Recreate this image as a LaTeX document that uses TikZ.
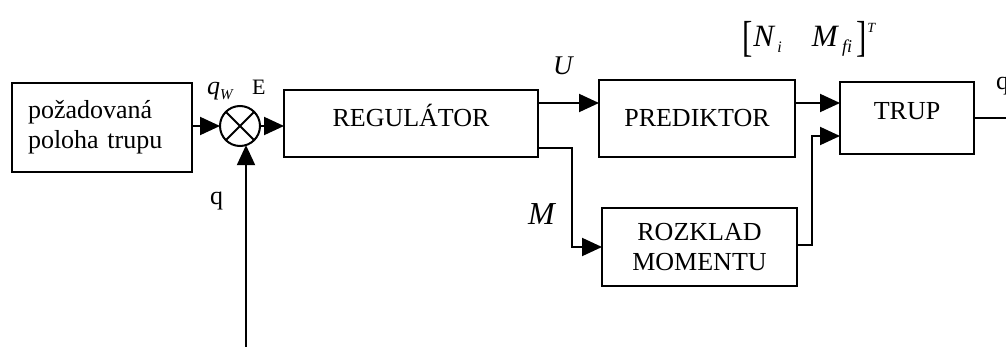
\documentclass[tikz,border=0pt]{standalone}
\usepackage{fontspec}
\setmainfont{Liberation Serif}
\usepackage{graphicx}
\usetikzlibrary{arrows.meta,calc}
\begin{document}
\begin{tikzpicture}[x=1pt,y=-1pt,line width=2pt,
  every node/.style={font=\fontsize{26}{30}\selectfont},
  box/.style={draw,rectangle,inner sep=0pt,outer sep=0pt},
  arr/.style={-{Triangle[length=20pt,width=18pt]}},
  lbl/.style={anchor=base west,inner sep=0pt,outer sep=0pt}]
\useasboundingbox (0,0) rectangle (1006,347);

% blocks
\node[box,minimum width=180pt,minimum height=89pt,text width=148pt,inner xsep=16pt,align=left] (ref) at (102,127.5) {požadovaná\\poloha trupu};
\node[draw,circle,minimum size=40pt,inner sep=0pt,outer sep=0pt] (sum) at (240,126) {};
\draw (sum.45) -- (sum.225) (sum.135) -- (sum.-45);
\node[box,minimum width=254pt,minimum height=67pt,text height=17pt,text depth=10pt] (reg) at (411,123.5) {REGULÁTOR};
\node[box,minimum width=196pt,minimum height=77pt] (pred) at (697,118.5) {PREDIKTOR\hspace{6pt}};
\node[box,minimum width=134pt,minimum height=72pt,text height=17pt,text depth=13pt] (trup) at (907,118) {TRUP\hspace{8pt}};
\node[box,minimum width=195pt,minimum height=78pt,align=center] (rozk) at (699.5,247) {ROZKLAD\\MOMENTU};

% connectors
\draw[arr] (ref.east |- sum) -- (sum.west);
\draw[arr] (sum.east) -- (sum -| reg.west);
\coordinate (qin) at (246,350);
\draw[arr] (qin) -- (qin |- sum.-73);
\coordinate (u) at ([yshift=20.5pt]reg.east);
\draw[arr] (u) -- (u -| pred.west);
\coordinate (mm) at ([yshift=-24.5pt]reg.east);
\draw[arr] (mm) -- ++(34,0) |- (rozk.west);
\coordinate (t1) at ([yshift=15pt]trup.west);
\draw[arr] (t1 -| pred.east) -- (t1);
\coordinate (t2) at ([yshift=-18pt]trup.west);
\draw[arr] ([yshift=2pt]rozk.east) -- ++(15,0) |- (t2);
\coordinate (out) at (1015,118);
\draw (trup.east) -- (out);

% labels
\node[lbl] (lqw) at (207,95) {\textit{q}\raisebox{-5pt}{\fontsize{15}{15}\selectfont\textit{W}}};
\node[lbl] (le) at (252,95) {\fontsize{22}{24}\selectfont E};
\node[lbl] (lq) at (210,205) {q};
\node[lbl] (lu) at (553,75) {\fontsize{27}{30}\selectfont\textit{U}};
\node[lbl] (lm) at (528,225) {\fontsize{32}{34}\selectfont\textit{M}};
\node[lbl] (lqo) at (996,90) {q};
\node[lbl] (lnm) at (742,47) {\fontsize{31}{33}\selectfont\raisebox{-4.5pt}{\scalebox{1}[1.4]{[}}\hspace{1pt}\textit{N}\hspace{2pt}\raisebox{-6pt}{\fontsize{16}{16}\selectfont\textit{i}}\hspace{30pt}\textit{M}\hspace{3pt}\raisebox{-6pt}{\fontsize{18}{18}\selectfont\textit{fi}}\hspace{4pt}\raisebox{-4.5pt}{\scalebox{1}[1.4]{]}}\hspace{1pt}\raisebox{14pt}{\fontsize{14}{14}\selectfont\textit{T}}};
\end{tikzpicture}
\end{document}
